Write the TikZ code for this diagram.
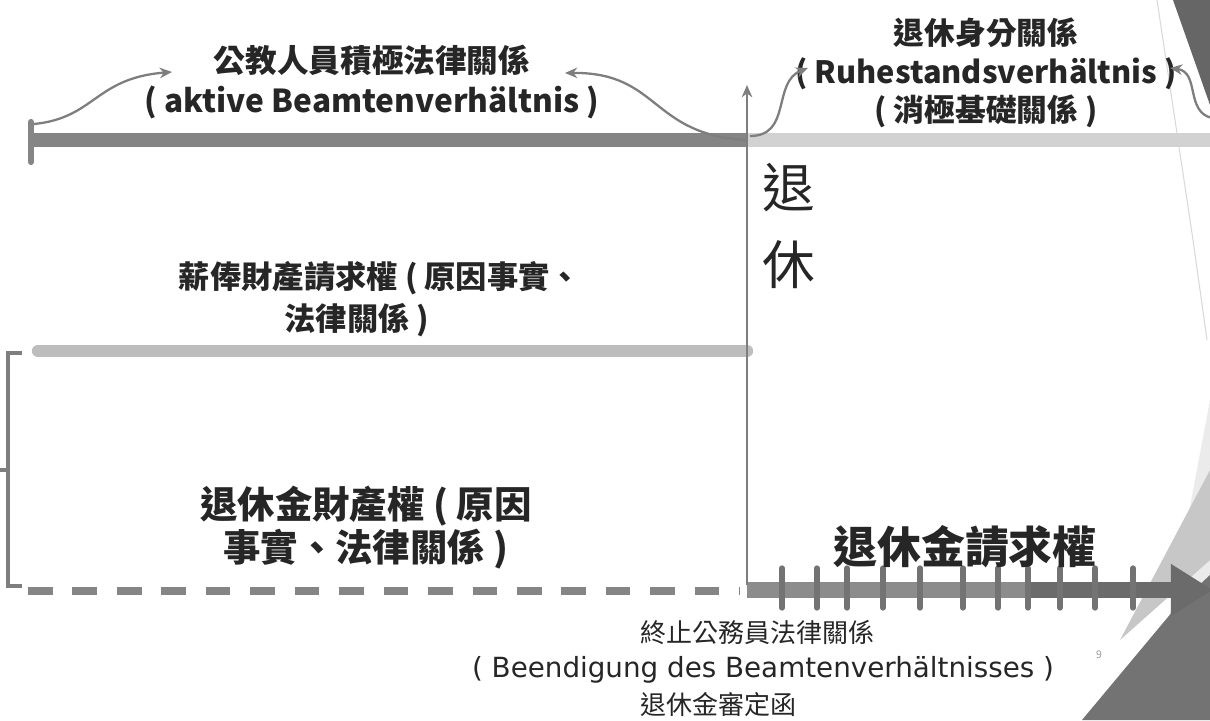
\documentclass[tikz,border=0pt]{standalone}
\usepackage{fontspec}
\setmainfont{Noto Sans CJK TC}
\newfontfamily\latinwide{DejaVu Sans}
\usepackage{xcolor}
\usetikzlibrary{arrows.meta}

\definecolor{darkbar}{HTML}{858585}
\definecolor{lightbar}{HTML}{D2D2D2}
\definecolor{midbar}{HTML}{BDBDBD}
\definecolor{linegray}{HTML}{7E7E7E}
\definecolor{inkgray}{HTML}{262626}

\tikzset{
  bold label/.style={font=\bfseries\fontsize{18}{23}\selectfont, text=inkgray, align=center, inner sep=0pt},
  plain label/.style={font=\fontsize{14.8}{18}\selectfont, text=inkgray, inner sep=0pt},
  curved arrow/.style={draw=linegray, line width=1.3pt, -{Stealth[length=7pt,width=6pt]}},
}

\begin{document}
\begin{tikzpicture}[x=0.02cm,y=-0.02cm]
\useasboundingbox (0,0) rectangle (1210,720);

    % Slide decoration on the right
    \fill[black!8] (1150,720) -- (1210,400) -- (1210,720) -- cycle;
    \fill[black!22] (1120,640) -- (1210,470) -- (1210,560) -- cycle;
    \fill[black!55] (1082,720) -- (1178,605) -- (1210,575) -- (1210,720) -- cycle;
    \fill[black!60] (1173,0) -- (1210,0) -- (1210,105) -- cycle;
    \draw[black!15, line width=0.6pt] (1157,0) -- (1193,240) -- (1207,340);

    \def\split{747}

    % Points on the time line
    \coordinate (start) at (31,140);
    \coordinate (cut) at (\split,140);
    \coordinate (endtop) at (1210,140);
    \coordinate (axisbot) at (\split,585);
    \coordinate (axistop) at (\split,85);

    % Active service bar and the lighter bar after retirement
    \draw[lightbar, line width=8pt] (cut) -- (endtop);
    \draw[darkbar, line width=8pt] (start) -- (cut);
    \draw[darkbar, line width=3.5pt, line cap=round] (31,122) -- (31,162);

    % Salary claim bar
    \coordinate (salL) at (38,351);
    \coordinate (salR) at (\split,351);
    \draw[midbar, line width=7pt, line cap=round] (salL) -- (salR);

    % Bracket on the left
    \coordinate (brTop) at (22,353);
    \coordinate (brBot) at (22,586);
    \draw[linegray, line width=2pt] (brTop) -- (8,353) -- (8,586) -- (brBot);
    \draw[linegray, line width=2pt] (0,470) -- (8,470);

    % Pension property right, dashed
    \coordinate (penL) at (28,591);
    \coordinate (penR) at (740,591);
    \draw[darkbar, line width=4pt, dash pattern=on 14pt off 11.3pt] (penL) -- (penR);

    % Pension claim arrow with its ticks
    \coordinate (claimL) at (\split,590);
    \coordinate (claimR) at (1213,590);
    \draw[black!58, line width=9.5pt, -{Triangle[length=24pt,width=28pt]}] (claimL) -- (claimR);
    \draw[black!45, line width=9.5pt] (claimL) -- (1030,590);
    \foreach \t in {782,817,847,883,920,963,998,1028,1060,1095,1133}
        \draw[black!55, line width=3pt, line cap=round] (\t,568) -- (\t,608);

    % Retirement axis
    \draw[linegray, line width=1.6pt, -{Stealth[length=7pt,width=6pt]}] (axisbot) -- (axistop);

    % Labels
    \node[bold label] (active) at (372,82) {公教人員積極法律關係\\( aktive Beamtenverhältnis )};
    \node[bold label, font=\bfseries\fontsize{17.5}{22}\selectfont] (retired) at (986,73)
        {退休身分關係\\( Ruhestandsverhältnis )\\( 消極基礎關係 )};
    \node[font=\fontsize{30}{36}\selectfont, text=inkgray, align=center, inner sep=0pt] (ret) at (789,226) {退\\[8pt]休};

    \node[bold label, font=\bfseries\fontsize{17.8}{21}\selectfont] (salary) at (380,278) {薪俸財產請求權 ( 原因事實、};
    \node[bold label, font=\bfseries\fontsize{17.8}{21}\selectfont] (salary2) at (357,320) {法律關係 )};

    \node[bold label, font=\bfseries\fontsize{21.3}{24.5}\selectfont] (pension) at (366,528)
        {退休金財產權 ( 原因\\事實、法律關係 )};
    \node[bold label, font=\bfseries\fontsize{25}{30}\selectfont] (claim) at (965,547) {退休金請求權};

    \node[plain label, anchor=west] (end1) at (640,632) {終止公務員法律關係};
    \node[plain label, font=\latinwide\fontsize{15.8}{18}\selectfont] (end2) at (763,670) {( Beendigung des Beamtenverhältnisses )};
    \node[plain label, anchor=west] (end3) at (640,705) {退休金審定函};
    \node[font=\fontsize{6}{7}\selectfont, text=black!40] (page) at (1099,655) {9};

    % Curved arrows to the labels
    \coordinate (leftTip) at (172,72);
    \coordinate (midTip) at (565,73);
    \coordinate (rightTip) at (808,68);
    \coordinate (farTip) at (1170,68);
    \draw[curved arrow] (34,124) .. controls (95,118) and (95,78) .. (leftTip);
    \draw[curved arrow] (cut) .. controls (650,135) and (660,72) .. (midTip);
    \draw[curved arrow] (750,136) .. controls (792,136) and (772,82) .. (rightTip);
    \draw[curved arrow] (1212,118) .. controls (1185,112) and (1200,72) .. (farTip);

\end{tikzpicture}
\end{document}
